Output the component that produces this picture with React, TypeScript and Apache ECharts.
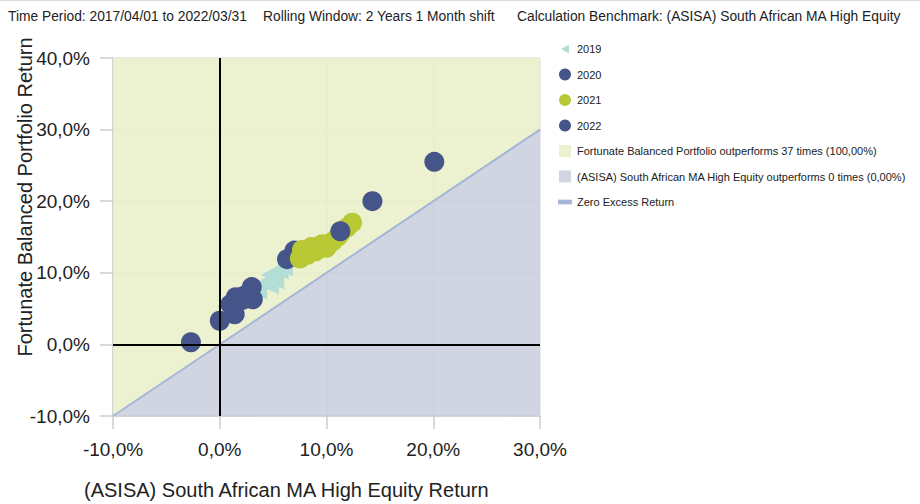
import React, { useEffect, useRef } from "react";
import * as echarts from "echarts";

// ---- data ----
const headerTexts = [
  "Time Period: 2017/04/01 to 2022/03/31",
  "Rolling Window: 2 Years 1 Month shift",
  "Calculation Benchmark: (ASISA) South African MA High Equity",
];
const xAxisName = "(ASISA) South African MA High Equity Return";
const yAxisName = "Fortunate Balanced Portfolio Return";
const xRange = [-10, 30];
const yRange = [-10, 40];
const tickStep = 10;

const s2019: [number, number][] = [
  [0.6, 5.3], [3.6, 7.6], [4.2, 8.6], [4.7, 8.3], [4.7, 9.7],
  [5.2, 9.0], [5.1, 10.0], [5.6, 10.4], [6.0, 10.8],
];
const s2020: [number, number][] = [
  [-2.7, 0.3], [0.0, 3.3], [1.4, 4.2], [1.0, 5.6], [1.5, 6.6], [2.1, 6.2],
  [2.3, 6.8], [2.8, 7.2], [3.0, 8.0], [3.1, 6.3], [6.3, 11.9], [7.0, 13.1],
];
const s2021: [number, number][] = [
  [7.5, 12.0], [7.7, 13.2], [8.2, 12.5], [8.6, 13.6], [9.0, 13.0], [9.6, 14.0],
  [10.0, 13.5], [10.6, 14.4], [11.1, 15.1], [11.4, 15.7], [11.9, 16.3], [12.4, 17.0],
];
const s2022: [number, number][] = [
  [11.3, 15.8], [14.3, 20.0], [20.1, 25.5],
];
const upperRegion: [number, number][] = [[-10, -10], [-10, 40], [30, 40], [30, 30]];
const lowerRegion: [number, number][] = [[-10, -10], [30, 30], [30, -10]];
const zeroExcess: [number, number][] = [[-10, -10], [30, 30]];

const nameFortunate = "Fortunate Balanced Portfolio outperforms 37 times (100,00%)";
const nameAsisa = "(ASISA) South African MA High Equity outperforms 0 times (0,00%)";
const nameZero = "Zero Excess Return";

const C_DARK = "#45558a";
const C_GREEN = "#b9c936";
const C_TEAL = "#b3ded6";
const FONT = "'Liberation Sans', Arial, sans-serif";

const fmt = (v: number) => v.toFixed(1).replace(".", ",") + "%";

export default function App() {
  const ref = useRef<HTMLDivElement>(null);
  useEffect(() => {
    if (!ref.current) return;
    const chart = echarts.init(ref.current, undefined, { renderer: "svg" });
    const triangle = "path://M0,5L9,0L9,10Z";
    const polyItem = (region: [number, number][], fill: string) => (params: any, api: any) => ({
      type: "polygon",
      shape: { points: region.map((p) => api.coord(p)) },
      style: { fill },
      silent: true,
    });
    const option: any = {
      animation: false,
      textStyle: { fontFamily: FONT },
      grid: { left: 113, right: 380, top: 58, bottom: 88 },
      graphic: [
        { type: "line", shape: { x1: 0, y1: 0.5, x2: 920, y2: 0.5 }, style: { stroke: "#d9d9d9", lineWidth: 1 } },
        ...headerTexts.map((t, i) => ({
          type: "text",
          left: [8, 263, 517][i],
          top: 9,
          style: { text: t, fontSize: 13.8, fill: "#222", fontFamily: FONT },
        })),
        {
          type: "text",
          x: 84,
          y: 490,
          style: { text: xAxisName, fontSize: 20, fill: "#222", fontFamily: FONT, verticalAlign: "middle" },
        },
        {
          type: "text",
          x: 25,
          y: 197,
          rotation: Math.PI / 2,
          style: { text: yAxisName, fontSize: 20, fill: "#222", fontFamily: FONT, align: "center", verticalAlign: "middle" },
        },
      ],
      legend: {
        orient: "vertical",
        left: 553,
        top: 38,
        itemWidth: 14,
        itemHeight: 12,
        itemGap: 13.5,
        textStyle: { fontSize: 11, color: "#222", fontFamily: FONT, lineHeight: 12 },
        selectedMode: false,
        data: [
          { name: "2019", icon: "path://M0,0M12,12M2,6L10,1.5L10,10.5Z" },
          { name: "2020", icon: "circle" },
          { name: "2021", icon: "circle" },
          { name: "2022", icon: "circle" },
          { name: nameFortunate, icon: "path://M0,0h10v10h-10z" },
          { name: nameAsisa, icon: "path://M0,0h10v10h-10z" },
          { name: nameZero, icon: "path://M0,0h15v5h-15z" },
        ],
      },
      xAxis: {
        type: "value",
        min: xRange[0],
        max: xRange[1],
        interval: tickStep,
        axisLine: { show: true, onZero: false, lineStyle: { color: "#cccccc", width: 1.5 } },
        axisTick: { show: true, length: 13, lineStyle: { color: "#cccccc", width: 1.5 } },
        splitLine: { show: true, lineStyle: { color: "#e2e2e2", width: 1.5 } },
        axisLabel: { formatter: fmt, fontSize: 19, color: "#222", margin: 24, fontFamily: FONT },
      },
      yAxis: {
        type: "value",
        min: yRange[0],
        max: yRange[1],
        interval: tickStep,
        axisLine: { show: true, onZero: false, lineStyle: { color: "#cccccc", width: 1.5 } },
        axisTick: { show: true, length: 13, lineStyle: { color: "#cccccc", width: 1.5 } },
        splitLine: { show: true, lineStyle: { color: "#e2e2e2", width: 1.5 } },
        axisLabel: { formatter: fmt, fontSize: 19, color: "#222", margin: 23, fontFamily: FONT },
      },
      series: [
        {
          type: "custom",
          name: nameFortunate,
          data: [[0, 0]],
          renderItem: polyItem(upperRegion, "rgba(233,239,200,0.85)"),
          itemStyle: { color: "#ecf1d0" },
          z: 1,
          silent: true,
        },
        {
          type: "custom",
          name: nameAsisa,
          data: [[0, 0]],
          renderItem: polyItem(lowerRegion, "rgba(200,206,220,0.85)"),
          itemStyle: { color: "#d0d5e1" },
          z: 1,
          silent: true,
        },
        {
          type: "line",
          name: nameZero,
          data: zeroExcess,
          symbol: "none",
          lineStyle: { color: "#a5b6d6", width: 2 },
          itemStyle: { color: "#a5b6d6" },
          z: 2,
          silent: true,
        },
        {
          type: "scatter",
          name: "2019",
          data: s2019,
          symbol: triangle,
          symbolSize: [18, 19],
          itemStyle: { color: C_TEAL, opacity: 1 },
          z: 3,
        },
        {
          type: "scatter",
          name: "2020",
          data: s2020,
          symbolSize: 20,
          itemStyle: { color: C_DARK, opacity: 1 },
          z: 4,
        },
        {
          type: "scatter",
          name: "2021",
          data: s2021,
          symbolSize: 20,
          itemStyle: { color: C_GREEN, opacity: 1 },
          z: 5,
        },
        {
          type: "scatter",
          name: "2022",
          data: s2022,
          symbolSize: 20,
          itemStyle: { color: C_DARK, opacity: 1 },
          z: 6,
        },
        {
          type: "line",
          name: "crosshair",
          data: [[0, 0]],
          symbol: "none",
          silent: true,
          z: 10,
          markLine: {
            silent: true,
            symbol: "none",
            label: { show: false },
            lineStyle: { color: "#000", width: 2, type: "solid" },
            data: [{ xAxis: 0 }, { yAxis: 0 }],
          },
        },
      ],
    };
    chart.setOption(option);
    return () => chart.dispose();
  }, []);
  return (
    <div
      ref={ref}
      style={{ position: "absolute", left: 0, top: 0, width: 920, height: 504, background: "#fff" }}
    />
  );
}
